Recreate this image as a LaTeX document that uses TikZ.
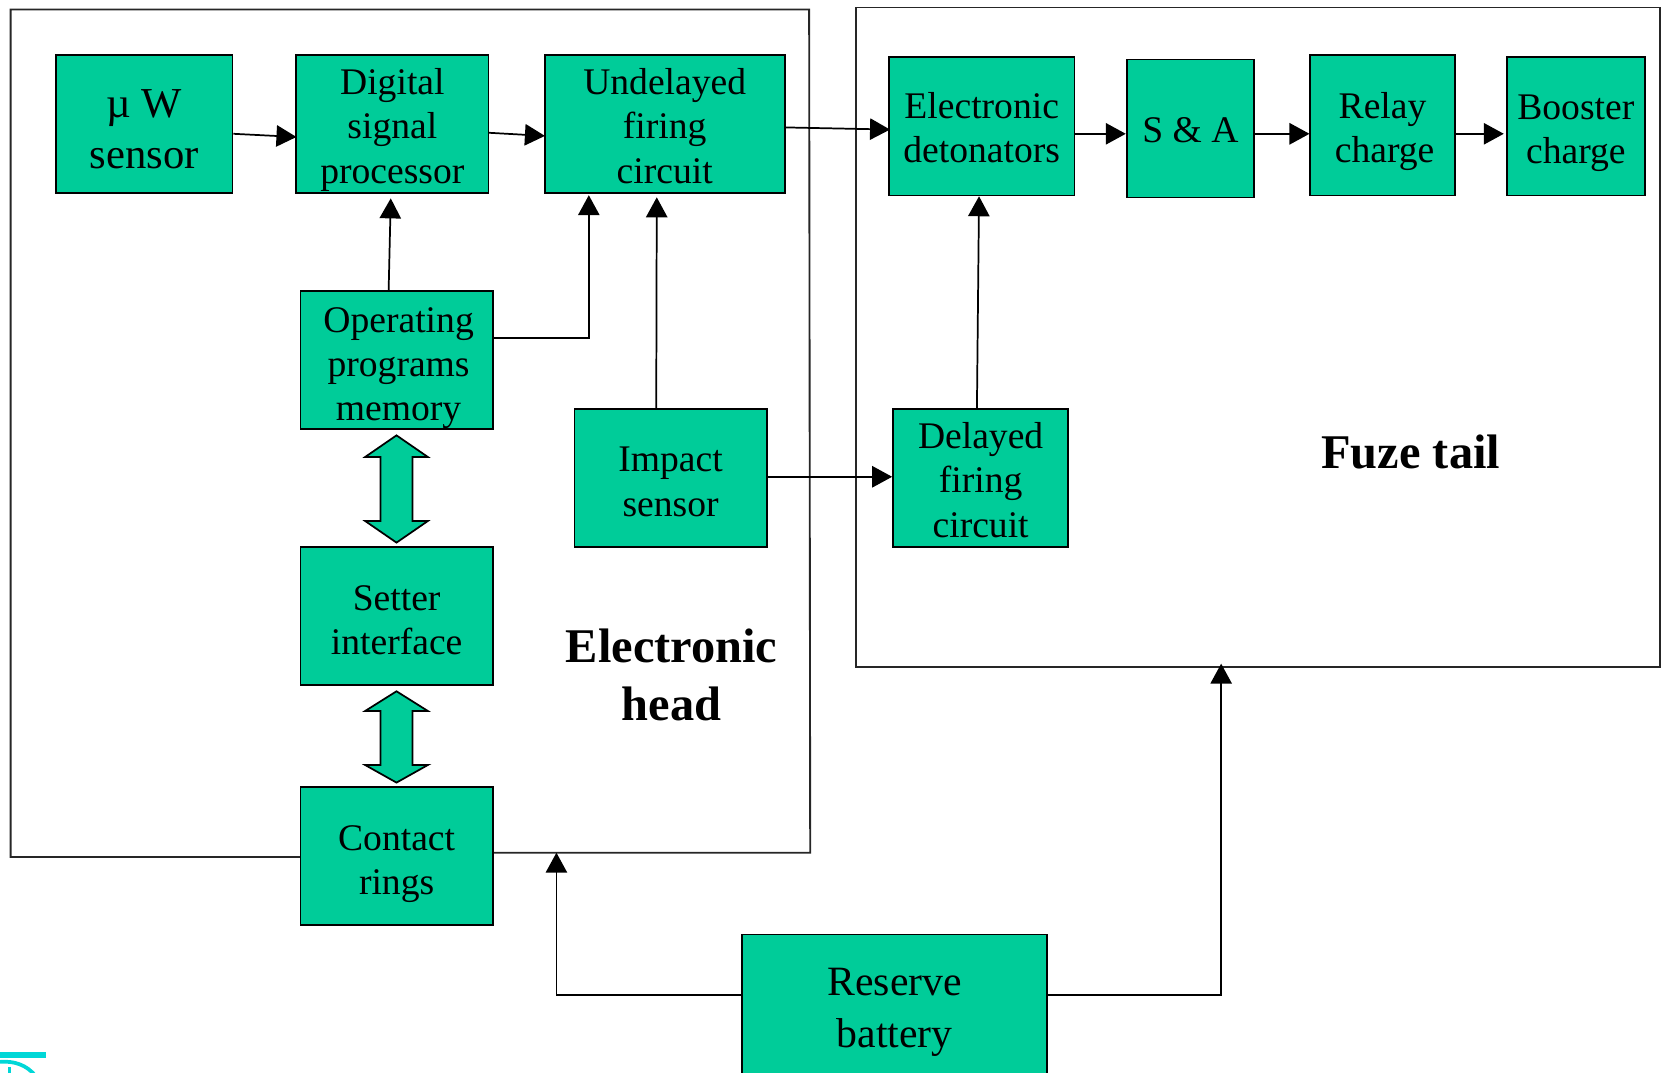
\documentclass[tikz,border=0pt]{standalone}
\usepackage{fontspec}
\setmainfont{Liberation Serif}
\usetikzlibrary{arrows.meta,calc}
\definecolor{boxgreen}{RGB}{0,204,153}
\definecolor{logocyan}{RGB}{0,215,215}
\tikzset{
  x=0.7964pt,y=-0.7964pt,
  block/.style={draw=black,fill=boxgreen,line width=1.3pt,inner sep=0pt,align=center,font=\fontsize{28.2}{33.2}\selectfont},
  bigblock/.style={block,font=\fontsize{32}{38.5}\selectfont},
  resblock/.style={block,font=\fontsize{31.3}{38.5}\selectfont},
  conn/.style={line width=1.3pt,-{Triangle[length=15pt,width=16pt]}},
  panel/.style={draw=black!85,line width=1.4pt},
  dbl/.style={draw=black,fill=boxgreen,line width=1.3pt,line join=miter},
  title/.style={font=\fontsize{36.3}{43.5}\selectfont\bfseries,align=center},
}
\newcommand{\bx}[7][block]{%
  \node[#1,minimum width=#4*0.7964pt-#2*0.7964pt,minimum height=#5*0.7964pt-#3*0.7964pt] (#6) at ({(#2+#4)/2},{(#3+#5)/2}) {#7};}
\newcommand{\dn}[1]{\rule{0pt}{#1pt}}
\begin{document}
\begin{tikzpicture}
\useasboundingbox (0,0) rectangle (1568,1010.4);
% panels
\draw[panel] (283,807) -- (10,807) -- (10,9) -- (762,9) -- (763,803) -- (464,803);
\draw[panel] (806,7) -- (1563,7) -- (1563,628) -- (806,628) -- cycle;
% blocks
\bx[bigblock]{53}{52}{219}{182}{mu}{\dn{28}µ W\\sensor}
\bx{279}{52}{460}{182}{dsp}{\dn{28}Digital\\signal\\processor}
\bx{513}{52}{739}{182}{ufc}{\dn{22.4}Undelayed\\firing\\circuit}
\bx{283}{274}{464}{404}{opm}{\dn{31}\hspace{3pt}Operating\\\hspace{3pt}programs\\\hspace{3pt}memory}
\bx{541}{385}{722}{515}{imp}{\dn{24.4}Impact\\sensor}
\bx{283}{515}{464}{645}{set}{\dn{25.4}Setter\\interface}
\bx{283}{741}{464}{871}{con}{\dn{31}Contact\\rings}
\bx{837}{54}{1012}{184}{det}{\dn{21.6}Electronic\\detonators}
\bx{1061}{56}{1181}{186}{sa}{\dn{20.6}S \& A}
\bx{1234}{52}{1370}{184}{rel}{\dn{28.6}Relay\\\hspace{3pt}charge}
\bx{1419}{54}{1549}{184}{boo}{\dn{28.6}Booster\\charge}
\bx{841}{385}{1006}{515}{del}{\dn{23}Delayed\\firing\\circuit}
\bx[resblock]{699}{880}{986}{1012}{res}{\dn{32}Reserve\\battery}
% labels
\node[title] (lhead) at (632.5,636) {Electronic\\head};
\node[title] (ltail) at (1328.5,426) {Fuze tail};
% connectors
\draw[conn] ($(mu.east)+(0,9)$) -- ($(dsp.west)+(1,12)$);
\draw[conn] ($(dsp.east)+(-1,8)$) -- ($(ufc.west)+(1,11)$);
\draw[conn] ($(ufc.east)+(0,3)$) -- ($(det.west)+(2,3)$);
\draw[conn] ($(opm.north)+(-7.5,0)$) -- ($(dsp.south)+(-1.5,4)$);
\draw[conn] ($(opm.east)+(0,-21)$) -| ($(ufc.south)+(-71.5,1)$);
\draw[conn] ($(imp.north)+(-13.5,1)$) -- ($(ufc.south)+(-7.5,3)$);
\draw[conn] ($(imp.east)+(0,-1)$) -- ($(del.west)+(0,-1)$);
\draw[conn] ($(del.north)+(-3.5,1)$) -- ($(det.south)+(-2.5,0)$);
\draw[conn] ($(det.east)+(0,7)$) -- ($(sa.west)+(0,5)$);
\draw[conn] ($(sa.east)+(0,5)$) -- ($(rel.west)+(0,8)$);
\draw[conn] ($(rel.east)+(0,8)$) -- ($(boo.west)+(-2,7)$);
\coordinate (tailin) at (1150,625);
\coordinate (headin) at (524,803);
\draw[conn] ($(res.east)+(0,-9)$) -| (tailin);
\draw[conn] ($(res.west)+(0,-9)$) -| (headin);
% double arrows
\draw[dbl] (373.4,410) -- (403,430.4) -- (388.4,430.4) -- (388.4,490.6) -- (403,490.6) -- (373.4,511) -- (343.8,490.6) -- (358.4,490.6) -- (358.4,430.4) -- (343.8,430.4) -- cycle;
\draw[dbl] (373.4,651) -- (403,669.6) -- (388.4,669.6) -- (388.4,720.4) -- (403,720.4) -- (373.4,737) -- (343.8,720.4) -- (358.4,720.4) -- (358.4,669.6) -- (343.8,669.6) -- cycle;
% logo
\begin{scope}
\clip (0,0) rectangle (1568,1010.4);
\fill[logocyan] (0,990.5) rectangle (43.5,996);
\draw[logocyan,line width=2.8pt] (0,1000) .. controls (12,999) and (25,1002) .. (34,1014);
\draw[logocyan,line width=2.8pt] (9,1014) -- (9,1005);
\end{scope}
\end{tikzpicture}
\end{document}
